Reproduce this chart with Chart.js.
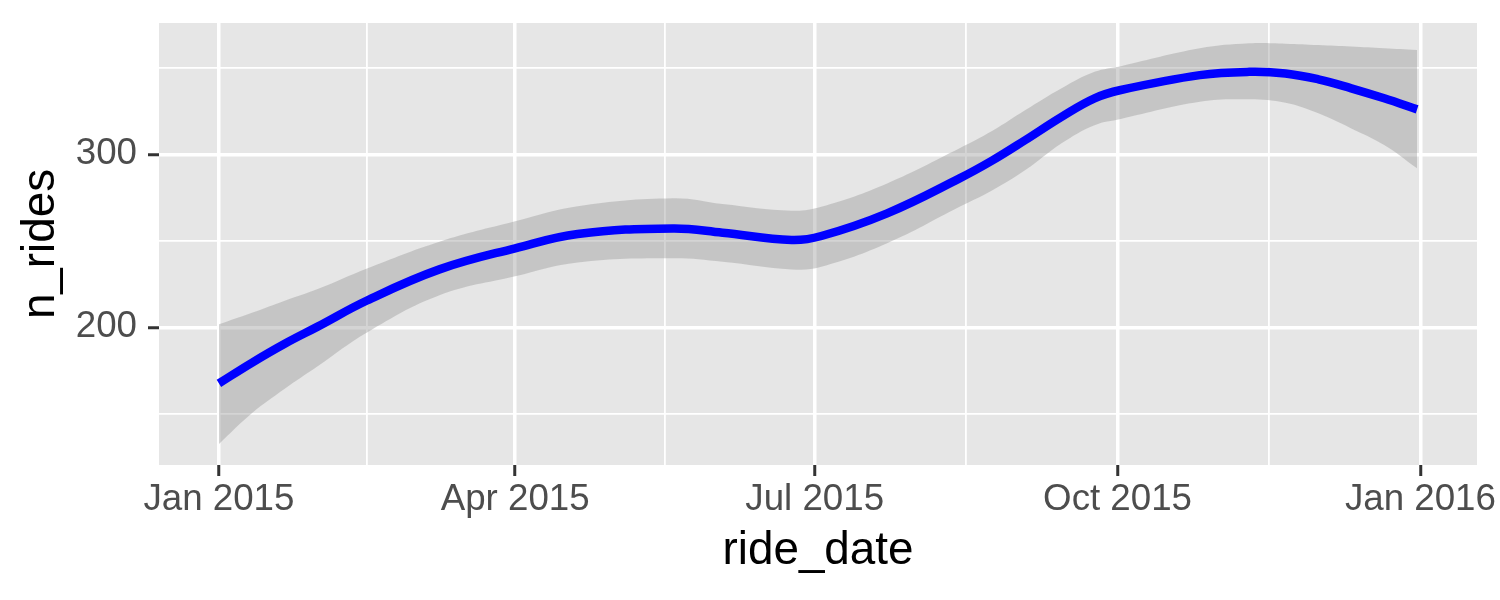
<!DOCTYPE html>
<html>
<head>
<meta charset="utf-8">
<script src="https://cdn.jsdelivr.net/npm/chart.js@4.4.1/dist/chart.umd.min.js"></script>
<style>
html, body { margin: 0; padding: 0; background: #ffffff; }
canvas { display: block; }
</style>
</head>
<body>
<canvas id="c" width="1500" height="600"></canvas>
<script>
// ---- data (day 0 = 1 Jan 2015) ----
const rideDays   = [0, 10, 20, 30, 45, 67, 90, 109, 138, 153, 174, 183, 203, 225, 235, 245, 256, 266, 274, 298, 313, 324, 334, 344, 354, 364];
const fitRides   = [167.6, 179.5, 190.5, 200.4, 215.5, 233.5, 245.7, 254.0, 257.2, 254.7, 250.5, 252.8, 265.9, 286.1, 296.5, 308.3, 321.7, 332.4, 337.2, 345.8, 347.7, 346.8, 343.4, 338.2, 332.4, 326.0];
const upperRides = [201.7, 208.4, 215.4, 222.1, 234.0, 249.5, 261.3, 270.0, 274.6, 271.3, 267.4, 269.7, 283.2, 303.5, 313.6, 325.6, 338.2, 347.7, 351.0, 361.3, 364.2, 364.0, 363.2, 362.3, 361.3, 360.3];
const lowerRides = [132.5, 150.3, 164.5, 177.5, 197.0, 218.5, 229.5, 237.5, 239.9, 237.9, 233.5, 235.0, 248.6, 269.7, 279.3, 290.9, 306.4, 316.9, 320.5, 330.4, 331.8, 329.8, 323.7, 315.0, 305.4, 291.9];

const xMajorBreaks = [0, 90, 181, 273, 365];
const xMajorLabels = ['Jan 2015', 'Apr 2015', 'Jul 2015', 'Oct 2015', 'Jan 2016'];
const xMinorBreaks = [45, 135.5, 227, 319];
const yMajorBreaks = [200, 300];
const yMinorBreaks = [150, 250, 350];

const FONT = '"Liberation Sans", Arial, Helvetica, sans-serif';

const toPts = (ys) => rideDays.map((d, i) => ({ x: d, y: ys[i] }));
const isMajorX = (v) => xMajorBreaks.includes(v);
const isMajorY = (v) => yMajorBreaks.includes(v);

const panelBg = {
  id: 'panelBg',
  beforeDraw(chart) {
    const { ctx, chartArea: a } = chart;
    ctx.save();
    ctx.fillStyle = '#FFFFFF';
    ctx.fillRect(0, 0, chart.width, chart.height);
    ctx.fillStyle = '#E6E6E6';
    ctx.fillRect(a.left, a.top, a.right - a.left, a.bottom - a.top);
    ctx.restore();
  }
};

new Chart(document.getElementById('c'), {
  type: 'line',
  data: {
    datasets: [
      {
        label: 'fit',
        data: toPts(fitRides),
        borderColor: '#0000FF',
        borderWidth: 8.5,
        borderCapStyle: 'butt',
        borderJoinStyle: 'round',
        pointRadius: 0,
        fill: false,
        tension: 0.4,
        order: 0
      },
      {
        label: 'upper',
        data: toPts(upperRides),
        borderColor: 'rgba(0,0,0,0)',
        borderWidth: 0,
        pointRadius: 0,
        fill: '+1',
        backgroundColor: 'rgba(153,153,153,0.42)',
        tension: 0.4,
        order: 1
      },
      {
        label: 'lower',
        data: toPts(lowerRides),
        borderColor: 'rgba(0,0,0,0)',
        borderWidth: 0,
        pointRadius: 0,
        fill: false,
        tension: 0.4,
        order: 2
      }
    ]
  },
  options: {
    responsive: false,
    animation: false,
    devicePixelRatio: 1,
    layout: { padding: { top: 23, right: 23, left: 0, bottom: 0 } },
    plugins: {
      legend: { display: false },
      tooltip: { enabled: false },
      filler: { propagate: false }
    },
    scales: {
      x: {
        type: 'linear',
        min: -18.2,
        max: 382.2,
        border: { display: false },
        afterBuildTicks: (s) => {
          s.ticks = xMajorBreaks.concat(xMinorBreaks).sort((a, b) => a - b).map(v => ({ value: v }));
        },
        afterFit: (s) => { s.height = 135; s.paddingLeft = 0; s.paddingRight = 0; },
        grid: {
          color: '#FFFFFF',
          lineWidth: (c) => (c.tick && isMajorX(c.tick.value)) ? 3.5 : 1.8,
          tickColor: (c) => (c.tick && isMajorX(c.tick.value)) ? '#333333' : 'rgba(0,0,0,0)',
          tickWidth: 3,
          tickLength: 11,
          drawTicks: true
        },
        ticks: {
          autoSkip: false,
          maxRotation: 0,
          minRotation: 0,
          padding: 2,
          color: '#4D4D4D',
          font: { family: FONT, size: 36.7, lineHeight: 1.2 },
          callback: (v) => { const i = xMajorBreaks.indexOf(v); return i >= 0 ? xMajorLabels[i] : ''; }
        },
        title: {
          display: true,
          text: 'ride_date',
          color: '#000000',
          font: { family: FONT, size: 45.8, lineHeight: 1.2 },
          padding: { top: 0, bottom: 21 }
        }
      },
      y: {
        type: 'linear',
        min: 120.4,
        max: 375.95,
        border: { display: false },
        afterBuildTicks: (s) => {
          s.ticks = yMajorBreaks.concat(yMinorBreaks).sort((a, b) => a - b).map(v => ({ value: v }));
        },
        afterFit: (s) => { s.width = 159; s.paddingTop = 0; s.paddingBottom = 0; },
        grid: {
          color: '#FFFFFF',
          lineWidth: (c) => (c.tick && isMajorY(c.tick.value)) ? 3.5 : 1.8,
          tickColor: (c) => (c.tick && isMajorY(c.tick.value)) ? '#333333' : 'rgba(0,0,0,0)',
          tickWidth: 3,
          tickLength: 11,
          drawTicks: true
        },
        ticks: {
          autoSkip: false,
          padding: 11,
          color: '#4D4D4D',
          font: { family: FONT, size: 36.7, lineHeight: 1.2 },
          callback: (v) => isMajorY(v) ? String(v) : ''
        },
        title: {
          display: true,
          text: 'n_rides',
          color: '#000000',
          font: { family: FONT, size: 45.8, lineHeight: 1.2 },
          padding: { top: 13.6, bottom: 0 }
        }
      }
    }
  },
  plugins: [panelBg]
});
</script>
</body>
</html>
